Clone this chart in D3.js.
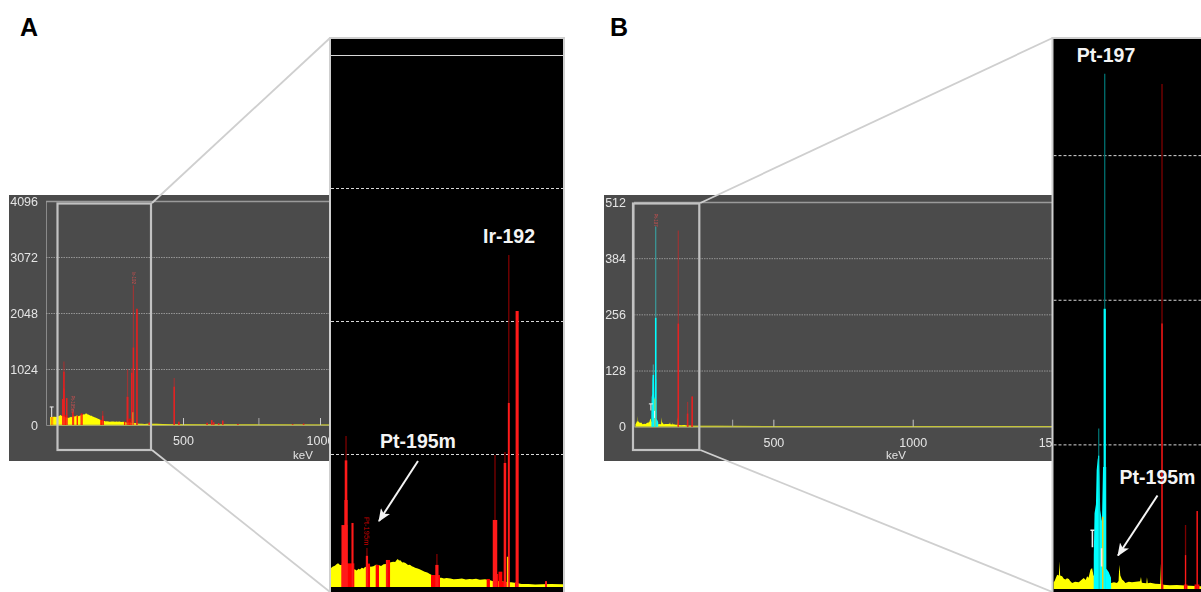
<!DOCTYPE html>
<html>
<head>
<meta charset="utf-8">
<script src="https://cdnjs.cloudflare.com/ajax/libs/d3/7.8.5/d3.min.js"></script>
<style>
  html, body { margin: 0; padding: 0; background: #fff; overflow: hidden; }
  svg { display: block; font-family: "Liberation Sans", Arial, sans-serif; }
</style>
</head>
<body>
<script>
// spectrum A (keV / counts)
var aContKev = [15, 30, 42, 45, 48, 51, 53, 56, 59, 66, 73, 76, 79, 82, 85, 87, 90, 93, 95, 98, 100, 104, 108, 112, 116, 120, 124, 128, 131, 135, 139, 142, 144, 146, 148, 150, 153, 155, 158, 162, 165, 168, 171, 173, 177, 180, 184, 188, 192, 196, 199, 203, 206, 210, 214, 218, 222, 228, 233, 240, 246, 252, 258, 262, 268, 274, 282, 290, 297, 304, 315, 323, 331, 339, 350, 360, 370, 385, 404, 450, 600, 800, 1150];
var aContCounts = [146, 150, 146, 158, 164, 178, 182, 170, 169, 155, 142, 130, 136, 128, 140, 134, 149, 142, 155, 150, 164, 156, 160, 172, 169, 162, 175, 178, 182, 190, 195, 192, 205, 216, 204, 205, 188, 190, 184, 169, 172, 160, 154, 149, 142, 136, 128, 118, 112, 100, 92, 86, 80, 72, 72, 66, 70, 66, 60, 62, 66, 58, 62, 60, 64, 56, 59, 52, 41, 46, 38, 36, 30, 23, 24, 20, 21, 24, 21, 15, 10, 8, 6];
var aBandStart = [18, 24, 58.6, 97.6, 111.6, 127.7, 197.8, 284.5, 294.8, 303, 308, 328.6];
var aBandEnd = [20, 26, 78.3, 102.8, 116.8, 134, 211.8, 289.6, 302.6, 309, 315.8, 333];
var aBandCounts = [146, 146, 182, 180, 170, 208, 92, 62, 100, 118, 40, 36];
var aPeakKev = [63, 65.4, 65.4, 75.5, 98, 129, 207, 297.5, 313, 319, 332, 377, 468, 485, 588, 605, 612, 630, 645, 700, 900, 940];
var aPeakTop = [477, 1163, 670, 493, 300, 208, 254, 1016, 1040, 2556, 2125, 45, 860, 60, 40, 90, 50, 30, 80, 20, 15, 25];
var aPeakBright = [477, 975, 670, 493, 240, 208, 170, 516, 955, 1417, 2125, 45, 700, 60, 40, 90, 50, 30, 80, 20, 15, 25];
var aPeakFwhm = [9.4, 4, 5, 3.2, 3.5, 3, 5, 7, 4, 3, 4.8, 3, 4, 3, 3, 3, 3, 3, 3, 3, 3, 3];
var aYellowKev = [317];
var aYellowTop = [233];
var aGrayKev = [777];
var aGrayTop = [128];

// spectrum B
var bContKev = [5.4, 6.8, 10.6, 13, 13.9, 14.8, 17.6, 20, 22.3, 24.5, 27.1, 29, 31.8, 36, 41.2, 44, 48.2, 51, 53, 55, 57.7, 60, 62, 87, 91, 95.3, 97.5, 98.6, 100, 102.4, 105, 107.1, 112, 116.5, 122, 128, 129.2, 130.5, 133, 136.8, 137.7, 138.8, 142.4, 149.5, 156.5, 157.5, 158.5, 160.3, 170, 180, 191.8, 215.4, 300, 500, 1000, 1500];
var bContCounts = [6, 6.8, 12.7, 12, 24.5, 12, 11.2, 9, 8.3, 9.6, 8.9, 7, 5.3, 6.5, 5.9, 7.5, 9.7, 8, 11.2, 10, 17, 18.6, 12, 5.3, 6, 5.3, 7, 21.5, 12, 8.3, 7, 5.3, 6.4, 5.9, 6.4, 6.8, 10.6, 5.5, 5.3, 5, 10.3, 5, 5.6, 4.7, 4.5, 22.4, 4.5, 3.8, 3.4, 3.6, 3, 2.4, 2, 1.5, 1, 1];
var bCyanKev = [62.3, 62.4, 63.5, 65.5, 66.5, 68, 69.4, 70.5, 71.5, 74, 75.5, 80, 80.2, 83.5, 86.8, 87];
var bCyanCounts = [0, 30, 67, 75, 105, 115, 118, 100, 70, 60, 108, 108, 18, 15, 10, 0];
var bCyanPeakKev = [69.4, 77.9];
var bCyanPeakTop = [142, 456];
var bCyanPeakBright = [118, 248];
var bCyanPeakFwhm = [1.5, 3.2];
var bBandStart = [158, 190, 205];
var bBandEnd = [161, 195, 212];
var bBandCounts = [4, 4, 4];
var bPeakKev = [159, 192.3, 208.8];
var bPeakTop = [447, 56.6, 69];
var bPeakBright = [235, 30, 69];
var bPeakFwhm = [1.8, 1.8, 1.8];
var bYellowKev = [75.1];
var bYellowTop = [64];
var bGrayKev = [354];
var bGrayTop = [16];

var aYTicks = [0, 1024, 2048, 3072, 4096];
var bYTicks = [0, 128, 256, 384, 512];
var xTicks = [500, 1000, 1500];

var svg = d3.select("body").append("svg").attr("width", 1201).attr("height", 592);
var defs = svg.append("defs");

defs.append("filter").attr("id", "soft")
  .attr("x", "-5%").attr("y", "-5%").attr("width", "110%").attr("height", "110%")
  .append("feGaussianBlur").attr("stdDeviation", 0.4);

defs.append("marker").attr("id", "head")
  .attr("markerUnits", "userSpaceOnUse")
  .attr("viewBox", "0 0 12 10").attr("refX", 11).attr("refY", 5)
  .attr("markerWidth", 13).attr("markerHeight", 11).attr("orient", "auto")
  .append("path").attr("d", "M0,0L12,5L0,10L3,5Z").attr("fill", "#f4f4f4");

function zipXY(xs, ys) {
  return xs.map(function(v, i) { return [v, ys[i]]; });
}

// one spectrum, used for both the overview and the enlarged view
function drawSpectrum(g, x, y, s, zoomed) {
  var y0 = y(0);
  var tipWidth = zoomed ? 1.3 : 1.2;
  var minWidth = zoomed ? 0.9 : 1.5;

  g.append("path").datum(s.cont)
    .attr("fill", "#ffff00")
    .attr("d", d3.area().x(function(d) { return x(d[0]); }).y0(y0).y1(function(d) { return y(d[1]); }));

  if (!zoomed) {
    g.append("line")
      .attr("x1", x(s.cont[0][0])).attr("x2", x(s.cont[s.cont.length - 1][0]))
      .attr("y1", y0).attr("y2", y0)
      .attr("stroke", "#c4c43a").attr("stroke-width", 1.2);
  }

  g.selectAll(".gray").data(s.gray).enter().append("line")
    .attr("class", "gray")
    .attr("x1", function(d) { return x(d[0]); }).attr("x2", function(d) { return x(d[0]); })
    .attr("y1", y0).attr("y2", function(d) { return y(d[1]); })
    .attr("stroke", "#aaa").attr("stroke-width", 1);

  var peaks = g.append("g").attr("opacity", zoomed ? 1 : 0.85);

  peaks.selectAll(".band").data(s.bands).enter().append("rect")
    .attr("class", "band")
    .attr("x", function(d) { return x(d[0]); })
    .attr("width", function(d) { return x(d[1]) - x(d[0]); })
    .attr("y", function(d) { return y(d[2]); })
    .attr("height", function(d) { return y0 - y(d[2]); })
    .attr("fill", "#ff0000");

  function drawPeaks(layer, list, dark, bright) {
    layer.selectAll(null).data(list).enter().append("line")
      .attr("x1", function(d) { return x(d[0]); }).attr("x2", function(d) { return x(d[0]); })
      .attr("y1", y0).attr("y2", function(d) { return y(d[1]); })
      .attr("stroke", dark).attr("stroke-width", tipWidth);
    layer.selectAll(null).data(list).enter().append("rect")
      .attr("x", function(d) { return x(d[0]) - Math.max(minWidth, x(d[3]) - x(0)) / 2; })
      .attr("width", function(d) { return Math.max(minWidth, x(d[3]) - x(0)); })
      .attr("y", function(d) { return y(d[2]); })
      .attr("height", function(d) { return y0 - y(d[2]); })
      .attr("fill", bright);
  }

  if (s.cyan) {
    g.append("path").datum(s.cyan)
      .attr("fill", "#00ffff")
      .attr("d", d3.area().x(function(d) { return x(d[0]); }).y0(y0).y1(function(d) { return y(d[1]); }));
  }
  drawPeaks(peaks, s.peaks, zoomed ? "#7e0000" : "#a83030", "#ff1a1a");

  if (s.cyanPeaks) {
    drawPeaks(g.append("g"), s.cyanPeaks, zoomed ? "#007070" : "#3a9c9c", "#00ffff");
  }

  g.selectAll(".ylw").data(s.yellow).enter().append("line")
    .attr("class", "ylw")
    .attr("x1", function(d) { return x(d[0]); }).attr("x2", function(d) { return x(d[0]); })
    .attr("y1", y0).attr("y2", function(d) { return y(d[1]); })
    .attr("stroke", zoomed ? "#ffc800" : "#e0b020").attr("stroke-width", zoomed ? 1.3 : 0.9);

  // small white bracket markers of the spectrum software
  s.marks.forEach(function(m) {
    var mk = g.append("g").attr("stroke", "#eee").attr("stroke-width", zoomed ? 1.6 : 1).attr("fill", "none");
    mk.append("line").attr("x1", x(m[0])).attr("x2", x(m[0])).attr("y1", y(m[1])).attr("y2", y(m[2]));
    if (m[3]) mk.append("line").attr("x1", x(m[0]) - 2).attr("x2", x(m[0]) + 2).attr("y1", y(m[2])).attr("y2", y(m[2]));
  });

  s.tags.forEach(function(t) {
    if (t.zoomed !== zoomed) return;
    g.append("text")
      .attr("transform", "translate(" + (x(t.kev) + (zoomed ? -2.5 : -1.5)) + "," + (y(t.count) - (zoomed ? 31 : 13)) + ") rotate(90)")
      .attr("font-size", zoomed ? 7.5 : 4.5)
      .attr("fill", zoomed ? "#c00000" : "#d05050")
      .text(t.label);
  });
}

function drawOverview(p) {
  var g = svg.append("g").attr("filter", "url(#soft)");
  var x = d3.scaleLinear().domain([0, 1000]).range([p.axisX, p.axisX + p.pxPer1000]);
  var y = d3.scaleLinear().domain([0, p.yTicks[4]]).range([p.y0, p.yTop]);
  var clipId = "clip-" + p.name;

  defs.append("clipPath").attr("id", clipId).append("rect")
    .attr("x", p.left).attr("y", 195).attr("width", p.right - p.left).attr("height", 266);

  g.append("rect")
    .attr("x", p.left).attr("y", 195)
    .attr("width", p.right - p.left).attr("height", 266)
    .attr("fill", "#4b4b4b");

  var inner = g.append("g").attr("clip-path", "url(#" + clipId + ")");

  var yAxis = inner.append("g")
    .attr("transform", "translate(" + p.axisX + ",0)")
    .call(d3.axisLeft(y).tickValues(p.yTicks).tickSize(-(p.right - p.axisX)).tickPadding(8).tickFormat(d3.format("d")));
  yAxis.select(".domain").attr("stroke", "#8a8a8a").attr("stroke-width", 1);
  yAxis.selectAll(".tick line")
    .attr("stroke", function(d) { return d === p.yTicks[4] ? "#9a9a9a" : "#a8a8a8"; })
    .attr("stroke-width", function(d) { return d === p.yTicks[4] ? 1.4 : 0.8; })
    .attr("stroke-dasharray", function(d) { return d === p.yTicks[4] ? null : "1.5,1"; })
    .attr("opacity", function(d) { return d === 0 ? 0 : 1; });
  yAxis.selectAll("text")
    .attr("fill", "#e4e4e4").attr("font-size", 12.5).attr("font-family", "Liberation Sans");

  drawSpectrum(inner, x, y, p.spec, false);

  // a label whose tick sits well behind the black view is left out
  var shownTicks = xTicks.filter(function(d) { return x(d) < p.right + 10; });
  var xAxis = inner.append("g")
    .attr("transform", "translate(0," + p.y0 + ")")
    .call(d3.axisBottom(x).tickValues(shownTicks).tickSize(-7).tickPadding(11).tickFormat(d3.format("d")));
  xAxis.select(".domain").remove();
  xAxis.selectAll(".tick line").attr("stroke", "#c8c8c8").attr("stroke-width", 1);
  xAxis.selectAll("text")
    .attr("fill", "#e4e4e4").attr("font-size", 12.5).attr("font-family", "Liberation Sans");

  inner.append("text")
    .attr("x", p.kevX).attr("y", 459)
    .attr("text-anchor", "middle").attr("fill", "#e4e4e4").attr("font-size", 11.5)
    .text("keV");

  // selection box and the lines going to the enlarged view
  svg.append("rect")
    .attr("x", p.boxX0).attr("y", 203.5)
    .attr("width", p.boxX1 - p.boxX0).attr("height", 246.5)
    .attr("fill", "none").attr("stroke", "#c2c2c2").attr("stroke-width", 2.2);

  svg.append("line").attr("x1", p.boxX1 + 1).attr("y1", 203).attr("x2", p.zoomLeft).attr("y2", 38)
    .attr("stroke", "#cfcfcf").attr("stroke-width", 1.8);
  svg.append("line").attr("x1", p.boxX1 + 1).attr("y1", 450).attr("x2", p.zoomLeft).attr("y2", 592)
    .attr("stroke", "#cfcfcf").attr("stroke-width", 1.8);
}

function drawZoom(p) {
  var x = d3.scaleLinear().domain(p.zoomKev).range([p.zoomLeft + 1, p.zoomRight]);
  var y = d3.scaleLinear().domain([0, p.yTicks[4]]).range([p.zoomY0, p.zoomYTop]);
  var clipId = "zoomclip-" + p.name;

  svg.append("rect")
    .attr("x", p.zoomLeft).attr("y", 38)
    .attr("width", p.zoomRight - p.zoomLeft).attr("height", 570)
    .attr("fill", "#000").attr("stroke", "#cfcfcf").attr("stroke-width", 2);

  defs.append("clipPath").attr("id", clipId).append("rect")
    .attr("x", p.zoomLeft + 1).attr("y", 39)
    .attr("width", p.zoomRight - p.zoomLeft - 2).attr("height", 553);

  var g = svg.append("g").attr("clip-path", "url(#" + clipId + ")");

  var grid = g.append("g")
    .attr("transform", "translate(" + (p.zoomLeft + 1) + ",0)")
    .call(d3.axisRight(y).tickValues(p.yTicks.slice(1)).tickSize(p.zoomRight - p.zoomLeft).tickFormat(""));
  grid.select(".domain").remove();
  grid.selectAll(".tick text").remove();
  grid.selectAll(".tick line")
    .attr("stroke", "#d8d8d8").attr("stroke-width", 1)
    .attr("stroke-dasharray", function(d) { return d === p.yTicks[4] ? null : "3,2"; });

  drawSpectrum(g, x, y, p.spec, true);
}

var panelA = {
  name: "a", left: 9, right: 330, axisX: 46, pxPer1000: 274, y0: 425, yTop: 201, yTicks: aYTicks, kevX: 303,
  boxX0: 57.5, boxX1: 151, zoomLeft: 330, zoomRight: 564, zoomKev: [42, 405], zoomY0: 587, zoomYTop: 55,
  spec: {
    cont: zipXY(aContKev, aContCounts),
    bands: aBandStart.map(function(v, i) { return [v, aBandEnd[i], aBandCounts[i]]; }),
    peaks: aPeakKev.map(function(v, i) { return [v, aPeakTop[i], aPeakBright[i], aPeakFwhm[i]]; }),
    yellow: zipXY(aYellowKev, aYellowTop),
    gray: zipXY(aGrayKev, aGrayTop),
    marks: [[20.8, 146, 330, true]],
    tags: [
      { kev: 98, count: 300, label: "Pt-195m", zoomed: true },
      { kev: 98, count: 300, label: "Pt-195m", zoomed: false },
      { kev: 319, count: 2556, label: "Ir-192", zoomed: false }
    ]
  }
};

var panelB = {
  name: "b", left: 604, right: 1053, axisX: 634, pxPer1000: 278.7, y0: 426.7, yTop: 202, yTicks: bYTicks, kevX: 896,
  boxX0: 633, boxX1: 699.3, zoomLeft: 1052.5, zoomRight: 1215, zoomKev: [5.4, 234], zoomY0: 589, zoomYTop: 10.5,
  spec: {
    cont: zipXY(bContKev, bContCounts),
    bands: bBandStart.map(function(v, i) { return [v, bBandEnd[i], bBandCounts[i]]; }),
    peaks: bPeakKev.map(function(v, i) { return [v, bPeakTop[i], bPeakBright[i], bPeakFwhm[i]]; }),
    cyan: zipXY(bCyanKev, bCyanCounts),
    cyanPeaks: bCyanPeakKev.map(function(v, i) { return [v, bCyanPeakTop[i], bCyanPeakBright[i], bCyanPeakFwhm[i]]; }),
    yellow: zipXY(bYellowKev, bYellowTop),
    gray: zipXY(bGrayKev, bGrayTop),
    marks: [[60.5, 37, 52, true], [73.5, 20, 36, false]],
    tags: [{ kev: 77.9, count: 456, label: "Pt-197", zoomed: false }]
  }
};

drawOverview(panelA);
drawOverview(panelB);
drawZoom(panelA);
drawZoom(panelB);

// panel letters
svg.append("text").attr("x", 20).attr("y", 36).attr("font-size", 25).attr("font-weight", "bold").text("A");
svg.append("text").attr("x", 610).attr("y", 36).attr("font-size", 25).attr("font-weight", "bold").text("B");

// peak names on the enlarged views
var callouts = [
  { label: "Ir-192", x: 509, y: 243 },
  { label: "Pt-195m", x: 418, y: 448 },
  { label: "Pt-197", x: 1106, y: 62 },
  { label: "Pt-195m", x: 1157.5, y: 484 }
];
svg.selectAll(".callout").data(callouts).enter().append("text")
  .attr("class", "callout")
  .attr("x", function(d) { return d.x; }).attr("y", function(d) { return d.y; })
  .attr("text-anchor", "middle")
  .attr("fill", "#f4f4f4").attr("font-size", 19.5).attr("font-weight", "bold")
  .text(function(d) { return d.label; });

var arrows = [
  { x1: 418, y1: 461, x2: 379, y2: 521 },
  { x1: 1157.5, y1: 495.5, x2: 1118, y2: 555.5 }
];
svg.selectAll(".arrow").data(arrows).enter().append("line")
  .attr("class", "arrow")
  .attr("x1", function(d) { return d.x1; }).attr("y1", function(d) { return d.y1; })
  .attr("x2", function(d) { return d.x2; }).attr("y2", function(d) { return d.y2; })
  .attr("stroke", "#f4f4f4").attr("stroke-width", 2)
  .attr("marker-end", "url(#head)");
</script>
</body>
</html>
